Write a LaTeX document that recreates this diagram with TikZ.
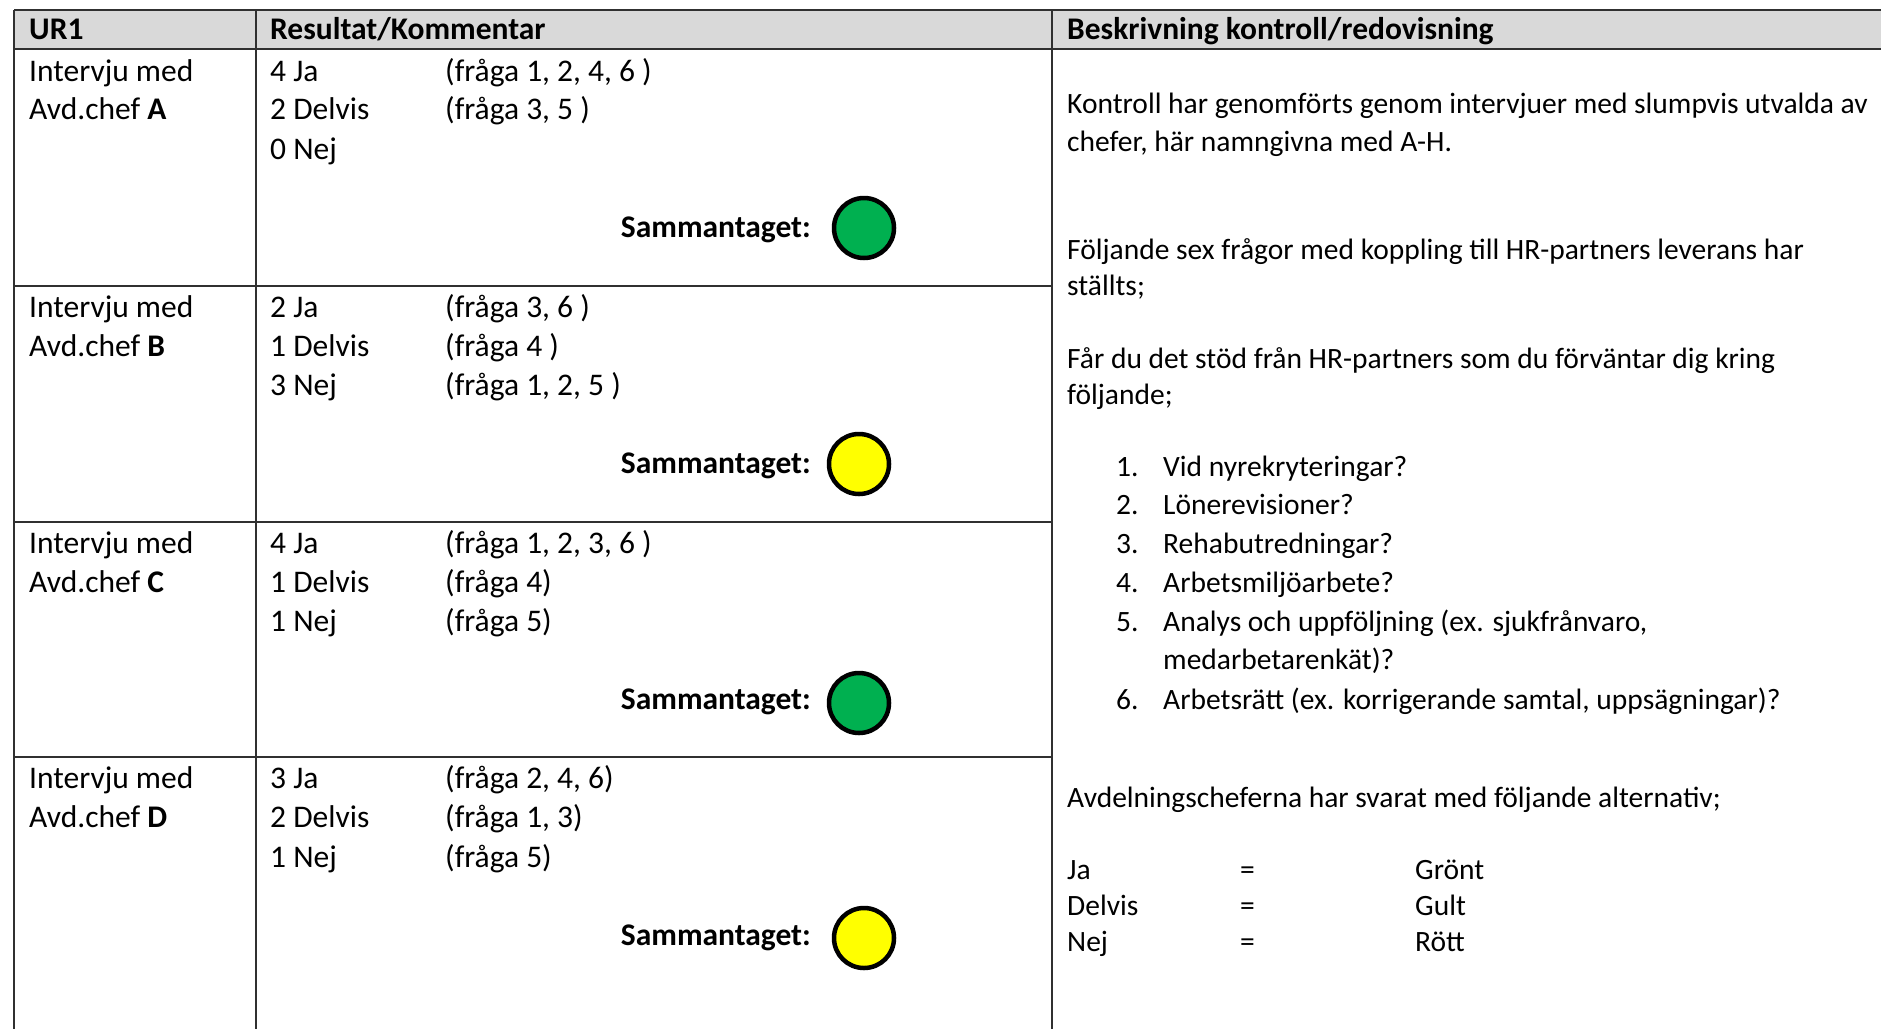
\documentclass[tikz,border=0pt]{standalone}
\usepackage{fontspec}
\setmainfont{Carlito}
\definecolor{hdrgray}{HTML}{D9D9D9}
\definecolor{lampgreen}{HTML}{00B050}
\definecolor{lampyellow}{HTML}{FFFF00}
\definecolor{rulecol}{HTML}{303030}
\begin{document}
\begin{tikzpicture}[x=1pt,y=-1pt,
  base/.style={inner sep=0pt, text height=0.75em, text depth=0.25em, yshift=-7pt},
  txt/.style={base, anchor=west, font=\fontsize{29.5}{35}\selectfont},
  ltxt/.style={base, anchor=west, font=\fontsize{31.5}{37}\selectfont},
  hdr/.style={base, anchor=west, font=\fontsize{31.5}{37}\selectfont\bfseries},
  sam/.style={base, anchor=east, font=\fontsize{31.5}{37}\selectfont\bfseries},
  rule/.style={line width=1.6pt, draw=rulecol},
  lamp/.style={circle, draw=black, line width=4.5pt, minimum size=60pt, inner sep=0pt},
]
\useasboundingbox (0,0) rectangle (1881,1029);
\fill[white] (0,0) rectangle (1881,1029);
% header band
\fill[hdrgray] (14,10) rectangle (1881,49);
% grid
\draw[rule] (14,10) -- (1881,10);
\draw[rule] (14,49) -- (1881,49);
\draw[rule] (14,10) -- (14,1029);
\draw[rule] (256,10) -- (256,1029);
\draw[rule] (1052,10) -- (1052,1029);
\draw[rule] (14,286) -- (1052,286);
\draw[rule] (14,522) -- (1052,522);
\draw[rule] (14,757) -- (1052,757);

% headers
\node[hdr] (h1) at (29,30) {UR1};
\node[hdr] (h2) at (270,30) {Resultat/Kommentar};
\node[hdr] (h3) at (1067,30) {Beskrivning kontroll/redovisning};

% Row A
\node[ltxt] (a1) at (29,72) {Intervju med};
\node[ltxt] (a2) at (29,110) {Avd.chef \textbf{A}};
\node[ltxt] (aj) at (270,72) {4 Ja};
\node[ltxt] (ad) at (270,110) {2 Delvis};
\node[ltxt] (an) at (270,150) {0 Nej};
\node[ltxt] (ajq) at (445,72) {(fråga 1, 2, 4, 6 )};
\node[ltxt] (adq) at (445,110) {(fråga 3, 5 )};
\node[sam] (as) at (811,228) {Sammantaget:};
\node[lamp, fill=lampgreen] (al) at (864,228) {};

% Row B
\node[ltxt] (b1) at (29,308) {Intervju med};
\node[ltxt] (b2) at (29,347) {Avd.chef \textbf{B}};
\node[ltxt] (bj) at (270,308) {2 Ja};
\node[ltxt] (bd) at (270,347) {1 Delvis};
\node[ltxt] (bn) at (270,386) {3 Nej};
\node[ltxt] (bjq) at (445,308) {(fråga 3, 6 )};
\node[ltxt] (bdq) at (445,347) {(fråga 4 )};
\node[ltxt] (bnq) at (445,386) {(fråga 1, 2, 5 )};
\node[sam] (bs) at (811,464) {Sammantaget:};
\node[lamp, fill=lampyellow] (bl) at (859,464) {};

% Row C
\node[ltxt] (c1) at (29,544) {Intervju med};
\node[ltxt] (c2) at (29,583) {Avd.chef \textbf{C}};
\node[ltxt] (cj) at (270,544) {4 Ja};
\node[ltxt] (cd) at (270,583) {1 Delvis};
\node[ltxt] (cn) at (270,622) {1 Nej};
\node[ltxt] (cjq) at (445,544) {(fråga 1, 2, 3, 6 )};
\node[ltxt] (cdq) at (445,583) {(fråga 4)};
\node[ltxt] (cnq) at (445,622) {(fråga 5)};
\node[sam] (cs) at (811,700) {Sammantaget:};
\node[lamp, fill=lampgreen] (cl) at (859,703) {};

% Row D
\node[ltxt] (d1) at (29,779) {Intervju med};
\node[ltxt] (d2) at (29,818) {Avd.chef \textbf{D}};
\node[ltxt] (dj) at (270,779) {3 Ja};
\node[ltxt] (dd) at (270,818) {2 Delvis};
\node[ltxt] (dn) at (270,858) {1 Nej};
\node[ltxt] (djq) at (445,779) {(fråga 2, 4, 6)};
\node[ltxt] (ddq) at (445,818) {(fråga 1, 3)};
\node[ltxt] (dnq) at (445,858) {(fråga 5)};
\node[sam] (ds) at (811,936) {Sammantaget:};
\node[lamp, fill=lampyellow] (dl) at (864,938) {};

% Right column
\node[txt] (r1) at (1067,104) {Kontroll har genomförts genom intervjuer med slumpvis utvalda av};
\node[txt] (r2) at (1067,142) {chefer, här namngivna med A-H.};
\node[txt] (r3) at (1067,250) {Följande sex frågor med koppling till HR-partners leverans har};
\node[txt] (r4) at (1067,286) {ställts;};
\node[txt] (r5) at (1067,359) {Får du det stöd från HR-partners som du förväntar dig kring};
\node[txt] (r6) at (1067,395) {följande;};
\node[txt] (n1) at (1116,467) {1.};
\node[txt] (q1) at (1163,467) {Vid nyrekryteringar?};
\node[txt] (n2) at (1116,505) {2.};
\node[txt] (q2) at (1163,505) {Lönerevisioner?};
\node[txt] (n3) at (1116,544) {3.};
\node[txt] (q3) at (1163,544) {Rehabutredningar?};
\node[txt] (n4) at (1116,583) {4.};
\node[txt] (q4) at (1163,583) {Arbetsmiljöarbete?};
\node[txt] (n5) at (1116,622) {5.};
\node[txt] (q5) at (1163,622) {Analys och uppföljning (ex. sjukfrånvaro,};
\node[txt] (q5b) at (1163,660) {medarbetarenkät)?};
\node[txt] (n6) at (1116,700) {6.};
\node[txt] (q6) at (1163,700) {Arbetsrätt (ex. korrigerande samtal, uppsägningar)?};
\node[txt] (r7) at (1067,798) {Avdelningscheferna har svarat med följande alternativ;};
\node[txt] (k1) at (1067,870) {Ja};
\node[txt] (e1) at (1240,870) {=};
\node[txt] (v1) at (1415,870) {Grönt};
\node[txt] (k2) at (1067,906) {Delvis};
\node[txt] (e2) at (1240,906) {=};
\node[txt] (v2) at (1415,906) {Gult};
\node[txt] (k3) at (1067,942) {Nej};
\node[txt] (e3) at (1240,942) {=};
\node[txt] (v3) at (1415,942) {Rött};
\end{tikzpicture}
\end{document}
